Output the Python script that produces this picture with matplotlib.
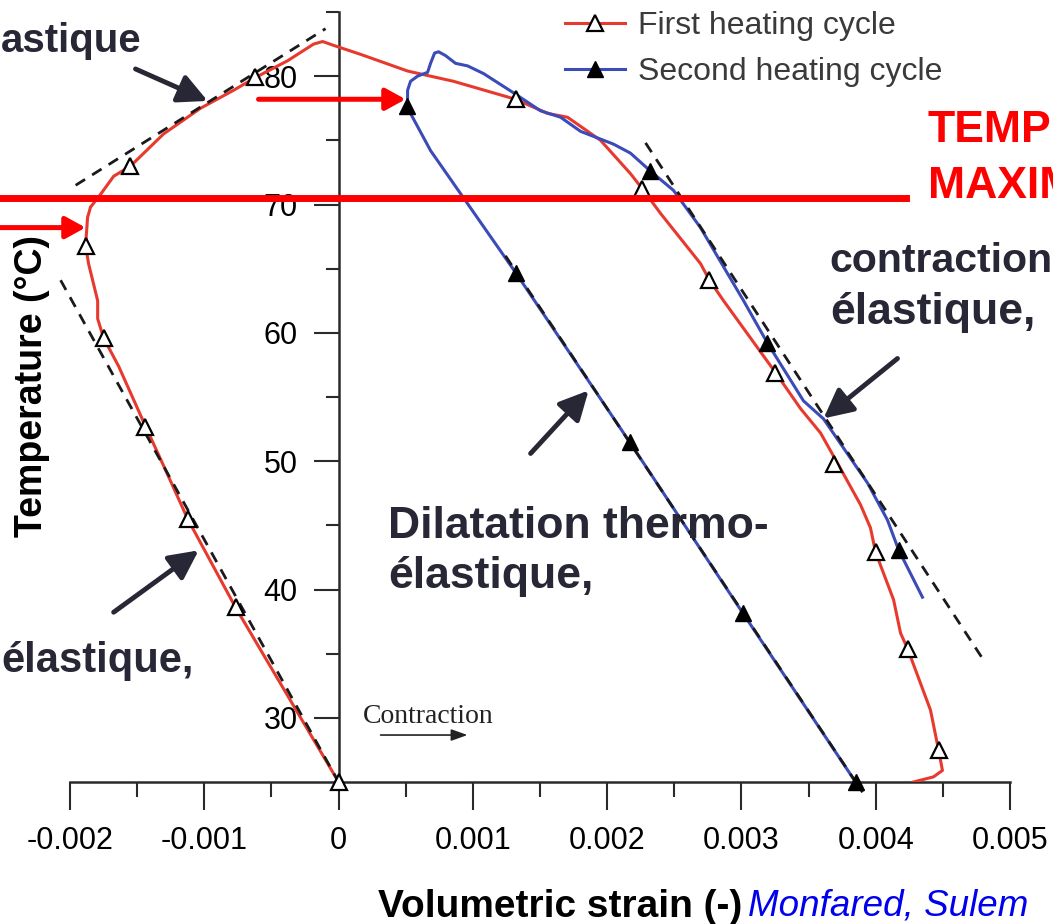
import matplotlib
matplotlib.use("Agg")
import matplotlib.pyplot as plt
from matplotlib.lines import Line2D
from matplotlib.ticker import FixedLocator, MultipleLocator

plt.rcParams["font.family"] = ["Liberation Sans", "DejaVu Sans"]
plt.rcParams["axes.unicode_minus"] = False

# first heating cycle (red curve, open triangles)
strain_1 = [0.0, -0.000767, -0.001124, -0.001288, -0.001437, -0.001638, -0.00175, -0.001794,
            -0.001794, -0.001862, -0.001884, -0.001869, -0.001847, -0.001772, -0.001675, -0.001549,
            -0.001303, -0.001028, -0.000782, -0.000618, -0.00038, -0.000186, -0.000119, -0.000037,
            0.000164, 0.000514, 0.000856, 0.001318, 0.001556, 0.001705, 0.001951, 0.002174,
            0.002264, 0.002398, 0.002695, 0.002762, 0.002867, 0.003254, 0.00344, 0.003589,
            0.003723, 0.003887, 0.003961, 0.003999, 0.004133, 0.004185, 0.004237, 0.004408,
            0.004468, 0.004497, 0.00443, 0.004281]
temp_1 = [25.0, 38.6, 45.5, 49.3, 52.7, 57.4, 59.6, 61.1,
          62.5, 65.4, 66.8, 69.0, 69.8, 70.8, 72.2, 73.0,
          75.5, 77.5, 78.9, 79.9, 81.2, 82.5, 82.7, 82.4,
          81.7, 80.4, 79.6, 78.2, 77.1, 76.8, 75.0, 72.4,
          71.2, 69.3, 65.4, 64.1, 62.5, 56.9, 54.1, 52.2,
          49.7, 46.6, 44.8, 42.9, 39.2, 36.6, 35.4, 30.6,
          27.5, 25.9, 25.4, 25.0]
marks_strain_1 = [0.0, -0.000767, -0.00112, -0.00144, -0.00175, -0.00188, -0.00155, -0.00062,
                  0.00132, 0.00226, 0.00276, 0.00325, 0.00369, 0.004, 0.00424, 0.00447]
marks_temp_1 = [25.0, 38.6, 45.5, 52.7, 59.6, 66.8, 73.0, 79.9,
                78.2, 71.2, 64.1, 56.9, 49.8, 42.9, 35.4, 27.5]

# second heating cycle (blue curve, filled triangles)
strain_2 = [0.00385, 0.003008, 0.002167, 0.001318, 0.000685, 0.000551, 0.000514, 0.000514,
            0.000536, 0.000588, 0.000663, 0.000685, 0.000715, 0.000745, 0.000797, 0.000871,
            0.000961, 0.00108, 0.001303, 0.001504, 0.001653, 0.001802, 0.002048, 0.002174,
            0.002323, 0.002494, 0.002695, 0.003016, 0.003194, 0.003462, 0.003611, 0.003939,
            0.004088, 0.00417, 0.004348]
temp_2 = [25.0, 38.2, 51.5, 64.7, 74.2, 76.8, 77.5, 78.9,
          79.6, 80.0, 80.3, 81.0, 81.8, 81.9, 81.6, 81.0,
          80.8, 80.2, 78.7, 77.3, 76.8, 75.7, 74.7, 74.0,
          72.6, 71.1, 68.2, 62.5, 59.2, 54.7, 53.3, 48.3,
          45.4, 43.1, 39.4]
marks_strain_2 = [0.00385, 0.00301, 0.00217, 0.00132, 0.00051, 0.00232, 0.00319, 0.00417]
marks_temp_2 = [25.0, 38.2, 51.5, 64.7, 77.7, 72.6, 59.2, 43.1]

# thermo-elastic straight-line fits (dashed)
fit_heat_1_x = [-0.00207, 0.0]
fit_heat_1_y = [64.1, 25.0]
fit_top_1_x = [-0.001958, -0.000097]
fit_top_1_y = [71.5, 83.7]
fit_heat_2_x = [0.001243, 0.003902]
fit_heat_2_y = [66.0, 24.2]
fit_cool_x = [0.002286, 0.004803]
fit_cool_y = [74.8, 34.5]

x_ticks = [-0.002, -0.001, 0.0, 0.001, 0.002, 0.003, 0.004, 0.005]
x_tick_labels = ["-0.002", "-0.001", "0", "0.001", "0.002", "0.003", "0.004", "0.005"]
y_ticks = [30, 40, 50, 60, 70, 80]
y_minor = [35, 45, 55, 65, 75, 85]

t_max = 70.5

RED = "#e8392f"
BLUE = "#3b4cb8"
INK = "#272735"
W, H = 1053, 924

fig = plt.figure(figsize=(W / 100, H / 100), dpi=100)
ax = fig.add_axes([70 / W, 1 - 782 / H, 940 / W, 770 / H])

ax.plot(strain_1, temp_1, color=RED, lw=2.2, zorder=3)
ax.plot(strain_2, temp_2, color=BLUE, lw=2.2, zorder=3)
for fx, fy in [(fit_heat_1_x, fit_heat_1_y), (fit_top_1_x, fit_top_1_y),
               (fit_heat_2_x, fit_heat_2_y), (fit_cool_x, fit_cool_y)]:
    ax.plot(fx, fy, color="#1a1a1a", lw=2, ls=(0, (4, 3)), zorder=4, clip_on=False)
ax.plot(marks_strain_1, marks_temp_1, ls="none", marker="^", ms=11, mfc="white",
        mec="black", mew=1.6, zorder=5, clip_on=False)
ax.plot(marks_strain_2, marks_temp_2, ls="none", marker="^", ms=11, mfc="black",
        mec="black", zorder=5, clip_on=False)

ax.set_xlim(-0.002, 0.005)
ax.set_ylim(25, 85)
ax.spines[["top", "right"]].set_visible(False)
ax.spines["left"].set_position(("data", 0))
for side in ["left", "bottom"]:
    ax.spines[side].set_linewidth(1.8)
    ax.spines[side].set_color("#2a2a2a")

ax.xaxis.set_major_locator(FixedLocator(x_ticks))
ax.set_xticklabels(x_tick_labels)
ax.xaxis.set_minor_locator(MultipleLocator(0.0005))
ax.yaxis.set_major_locator(FixedLocator(y_ticks))
ax.yaxis.set_minor_locator(FixedLocator(y_minor))
ax.tick_params(axis="x", which="major", length=20, width=1.5, pad=11.5, labelsize=22, color="#2a2a2a")
ax.tick_params(axis="x", which="minor", length=11, width=1.5, color="#2a2a2a")
ax.tick_params(axis="y", which="major", length=18, width=1.5, pad=11.5, labelsize=22, color="#2a2a2a")
ax.tick_params(axis="y", which="minor", length=9.4, width=1.5, color="#2a2a2a")

ax.set_xlabel("Volumetric strain (-)", fontsize=28, fontweight="bold")
ax.xaxis.label.set_va("baseline")
ax.xaxis.set_label_coords((560 - 70) / 940, (782 - 917) / 770)
ax.set_ylabel("Temperature (°C)", fontsize=27, fontweight="bold")
ax.yaxis.set_label_coords((50 - 70) / 940, (782 - 386) / 770)

handles = [
    Line2D([], [], color=RED, lw=2.2, marker="^", ms=11, mfc="white", mec="black", mew=1.6),
    Line2D([], [], color=BLUE, lw=2.2, marker="^", ms=11, mfc="black", mec="black"),
]
leg = ax.legend(handles, ["First heating cycle", "Second heating cycle"], loc="upper left",
                bbox_to_anchor=(565 / W, 1 - 11 / H), bbox_transform=fig.transFigure,
                frameon=False, fontsize=23, handlelength=1.88, handletextpad=0.4,
                labelspacing=0.51, borderpad=0, borderaxespad=0)
for t in leg.get_texts():
    t.set_color("#3a3a3a")

# direction of contraction
ax.text(0.000179, 29.6, "Contraction", family="Liberation Serif", fontsize=20,
        color="#222222", va="baseline")
ax.annotate("", xy=(0.00096, 28.66), xytext=(0.000313, 28.66),
            arrowprops=dict(arrowstyle="-|>,head_length=0.7,head_width=0.25", color="#222222",
                            lw=1.2, mutation_scale=14, shrinkA=0, shrinkB=0))

# maximum temperature
ax.plot([-0.002517, 0.004222], [t_max, t_max], color="red", lw=5, zorder=6, clip_on=False)
red_arrow = dict(arrowstyle="-|>,head_length=0.6,head_width=0.33", color="red", lw=3.6,
                 mutation_scale=20, shrinkA=0, shrinkB=0)
ax.annotate("", xy=(-0.001884, 68.2), xytext=(-0.00252, 68.2), arrowprops=red_arrow,
            annotation_clip=False, zorder=6)
ax.annotate("", xy=(0.000499, 78.2), xytext=(-0.000596, 78.2), arrowprops=red_arrow,
            annotation_clip=False, zorder=6)

# pointers to the elastic branches
ink_arrow = dict(arrowstyle="-|>,head_length=0.8,head_width=0.4", color=INK, lw=3.5,
                 mutation_scale=22, shrinkA=0, shrinkB=0)
for tip, tail in [((-0.000975, 78.07), (-0.001512, 80.56)),
                  ((-0.001042, 43.05), (-0.001675, 38.23)),
                  ((0.001862, 55.51), (0.00143, 50.6)),
                  ((0.003611, 53.33), (0.004162, 58.0))]:
    ax.annotate("", xy=tip, xytext=tail, arrowprops=ink_arrow, annotation_clip=False, zorder=7)

big = dict(fontsize=32, fontweight="bold", color=INK, va="baseline")
fig.text(1 / W, 1 - 52 / H, "astique", ha="left", **dict(big, fontsize=29))
fig.text(1 / W, 1 - 672 / H, "élastique,", ha="left", **dict(big, fontsize=30))
fig.text(388 / W, 1 - 538 / H, "Dilatation thermo-", ha="left", **big)
fig.text(388 / W, 1 - 588 / H, "élastique,", ha="left", **big)
fig.text(829 / W, 1 - 272 / H, "contraction", ha="left", **dict(big, fontsize=29.5))
fig.text(830 / W, 1 - 324 / H, "élastique,", ha="left", **big)
red_big = dict(big, color="red")
fig.text(928 / W, 1 - 142 / H, "TEMP", ha="left", **red_big)
fig.text(928 / W, 1 - 198 / H, "MAXIM", ha="left", **red_big)
fig.text(748 / W, 1 - 916 / H, "Monfared, Sulem", fontsize=26.5, style="italic",
         color="#0000ee", va="baseline")

fig.savefig("out.png", dpi=100)
